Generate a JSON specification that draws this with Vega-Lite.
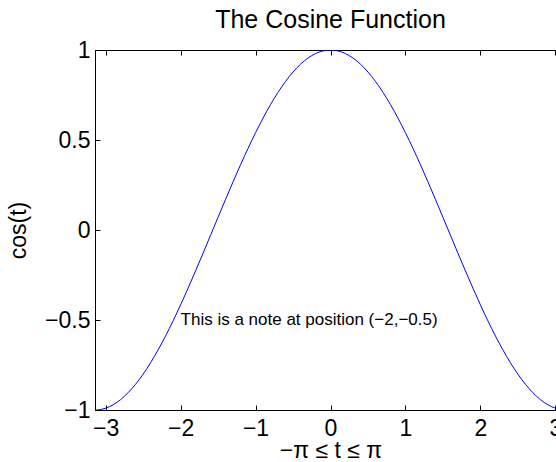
{
  "$schema": "https://vega.github.io/schema/vega-lite/v6.json",
  "width": 471,
  "height": 360,
  "autosize": {"type": "none"},
  "padding": {"left": 95, "top": 50, "right": 0, "bottom": 52},
  "background": "white",
  "config": {
    "font": "Liberation Sans",
    "view": {"stroke": "black", "strokeWidth": 1},
    "axis": {
      "domainColor": "black",
      "tickColor": "black",
      "labelColor": "black",
      "titleColor": "black",
      "grid": false,
      "labelFont": "Liberation Sans",
      "titleFont": "Liberation Sans",
      "labelFontSize": 23,
      "titleFontSize": 23,
      "titleFontWeight": "normal",
      "labelOverlap": false,
      "labelFlush": false
    },
    "title": {
      "fontSize": 25,
      "fontWeight": "normal",
      "font": "Liberation Sans",
      "color": "black",
      "anchor": "middle",
      "offset": 6
    }
  },
  "title": "The Cosine Function",
  "datasets": {
    "curve": [
      {"t": -3.1416, "c": -1.0},
      {"t": -3.1, "c": -0.99914},
      {"t": -3.0, "c": -0.98999},
      {"t": -2.9, "c": -0.97096},
      {"t": -2.8, "c": -0.94222},
      {"t": -2.7, "c": -0.90407},
      {"t": -2.6, "c": -0.85689},
      {"t": -2.5, "c": -0.80114},
      {"t": -2.4, "c": -0.73739},
      {"t": -2.3, "c": -0.66628},
      {"t": -2.2, "c": -0.5885},
      {"t": -2.1, "c": -0.50485},
      {"t": -2.0, "c": -0.41615},
      {"t": -1.9, "c": -0.32329},
      {"t": -1.8, "c": -0.2272},
      {"t": -1.7, "c": -0.12884},
      {"t": -1.6, "c": -0.0292},
      {"t": -1.5, "c": 0.07074},
      {"t": -1.4, "c": 0.16997},
      {"t": -1.3, "c": 0.2675},
      {"t": -1.2, "c": 0.36236},
      {"t": -1.1, "c": 0.4536},
      {"t": -1.0, "c": 0.5403},
      {"t": -0.9, "c": 0.62161},
      {"t": -0.8, "c": 0.69671},
      {"t": -0.7, "c": 0.76484},
      {"t": -0.6, "c": 0.82534},
      {"t": -0.5, "c": 0.87758},
      {"t": -0.4, "c": 0.92106},
      {"t": -0.3, "c": 0.95534},
      {"t": -0.2, "c": 0.98007},
      {"t": -0.1, "c": 0.995},
      {"t": 0.0, "c": 1.0},
      {"t": 0.1, "c": 0.995},
      {"t": 0.2, "c": 0.98007},
      {"t": 0.3, "c": 0.95534},
      {"t": 0.4, "c": 0.92106},
      {"t": 0.5, "c": 0.87758},
      {"t": 0.6, "c": 0.82534},
      {"t": 0.7, "c": 0.76484},
      {"t": 0.8, "c": 0.69671},
      {"t": 0.9, "c": 0.62161},
      {"t": 1.0, "c": 0.5403},
      {"t": 1.1, "c": 0.4536},
      {"t": 1.2, "c": 0.36236},
      {"t": 1.3, "c": 0.2675},
      {"t": 1.4, "c": 0.16997},
      {"t": 1.5, "c": 0.07074},
      {"t": 1.6, "c": -0.0292},
      {"t": 1.7, "c": -0.12884},
      {"t": 1.8, "c": -0.2272},
      {"t": 1.9, "c": -0.32329},
      {"t": 2.0, "c": -0.41615},
      {"t": 2.1, "c": -0.50485},
      {"t": 2.2, "c": -0.5885},
      {"t": 2.3, "c": -0.66628},
      {"t": 2.4, "c": -0.73739},
      {"t": 2.5, "c": -0.80114},
      {"t": 2.6, "c": -0.85689},
      {"t": 2.7, "c": -0.90407},
      {"t": 2.8, "c": -0.94222},
      {"t": 2.9, "c": -0.97096},
      {"t": 3.0, "c": -0.98999},
      {"t": 3.1, "c": -0.99914},
      {"t": 3.1416, "c": -1.0}
    ],
    "note": [
      {"t": -2, "c": -0.5, "label": "This is a note at position (−2,−0.5)"}
    ]
  },
  "resolve": {"axis": {"x": "independent", "y": "independent"}},
  "layer": [
    {
      "data": {"name": "curve"},
      "mark": {"type": "line", "color": "#0000ff", "strokeWidth": 1, "interpolate": "monotone", "clip": true},
      "encoding": {
        "x": {
          "field": "t", "type": "quantitative",
          "scale": {"domain": [-3.1416, 3.1416], "nice": false, "zero": false},
          "axis": {
            "orient": "bottom",
            "values": [-3, -2, -1, 0, 1, 2, 3],
            "format": "~g",
            "tickSize": -5,
            "labelPadding": 12,
            "title": "−π ≤ t ≤ π",
            "titlePadding": -1
          }
        },
        "y": {
          "field": "c", "type": "quantitative",
          "scale": {"domain": [-1, 1], "nice": false, "zero": false},
          "axis": {
            "orient": "left",
            "values": [-1, -0.5, 0, 0.5, 1],
            "format": "~g",
            "tickSize": -5,
            "labelPadding": 10,
            "title": "cos(t)",
            "titlePadding": 14
          }
        }
      }
    },
    {
      "data": {"name": "note"},
      "mark": {"type": "text", "align": "left", "baseline": "middle", "fontSize": 17, "font": "Liberation Sans", "color": "black"},
      "encoding": {
        "x": {
          "field": "t", "type": "quantitative",
          "scale": {"domain": [-3.1416, 3.1416], "nice": false, "zero": false},
          "axis": {
            "orient": "top",
            "values": [-3, -2, -1, 0, 1, 2, 3],
            "labels": false,
            "domain": false,
            "tickSize": -5,
            "title": null
          }
        },
        "y": {
          "field": "c", "type": "quantitative",
          "scale": {"domain": [-1, 1], "nice": false, "zero": false},
          "axis": {
            "orient": "right",
            "values": [-1, -0.5, 0, 0.5, 1],
            "labels": false,
            "domain": false,
            "tickSize": -5,
            "title": null
          }
        },
        "text": {"field": "label", "type": "nominal"}
      }
    }
  ]
}
